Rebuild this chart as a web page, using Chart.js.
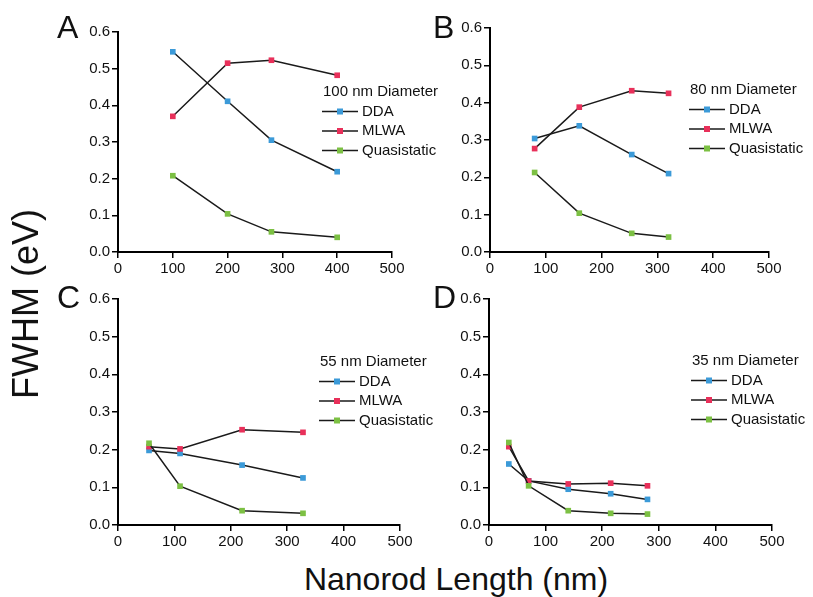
<!DOCTYPE html>
<html>
<head>
<meta charset="utf-8">
<script src="https://cdn.jsdelivr.net/npm/chart.js@4.4.1/dist/chart.umd.min.js"></script>
<style>
  body { margin: 0; background: #fff; width: 813px; height: 597px; position: relative; overflow: hidden;
         font-family: "Liberation Sans", Arial, Helvetica, sans-serif; color: #111; }
  canvas { position: absolute; }
  .letter { position: absolute; font-size: 32px; line-height: 32px; }
  .title { position: absolute; white-space: nowrap; line-height: 1; transform: translate(-50%, -50%); }
</style>
</head>
<body>
<canvas id="chartA"></canvas>
<canvas id="chartC"></canvas>
<canvas id="chartB"></canvas>
<canvas id="chartD"></canvas>
<div class="letter" style="left:57px;top:11px">A</div>
<div class="letter" style="left:433px;top:11px">B</div>
<div class="letter" style="left:57px;top:281px">C</div>
<div class="letter" style="left:433px;top:281px">D</div>
<div class="title" style="left:26px;top:304px;font-size:36px;transform:translate(-50%,-50%) rotate(-90deg)">FWHM (eV)</div>
<div class="title" style="left:456px;top:579px;font-size:32px">Nanorod Length (nm)</div>
<script>
// Series names and marker colours
const seriesNames = ['DDA', 'MLWA', 'Quasistatic'];
const seriesColors = ['#3b9ad8', '#e8305a', '#7cc043'];

// Axis ticks
const xTicks = [0, 100, 200, 300, 400, 500];
const yTicks = [0.0, 0.1, 0.2, 0.3, 0.4, 0.5, 0.6];

// Panel A - 100 nm diameter
const lengthsA = [100, 200, 280, 400];
const ddaA = [0.546, 0.411, 0.305, 0.219];
const mlwaA = [0.370, 0.515, 0.523, 0.482];
const quasiA = [0.208, 0.104, 0.055, 0.040];

// Panel B - 80 nm diameter
const lengthsB = [80, 160, 254, 320];
const ddaB = [0.304, 0.338, 0.261, 0.210];
const mlwaB = [0.277, 0.388, 0.432, 0.425];
const quasiB = [0.213, 0.104, 0.050, 0.040];

// Panel C - 55 nm diameter
const lengthsC = [55, 110, 220, 328];
const ddaC = [0.198, 0.190, 0.159, 0.125];
const mlwaC = [0.208, 0.202, 0.253, 0.246];
const quasiC = [0.217, 0.103, 0.038, 0.031];

// Panel D - 35 nm diameter
const lengthsD = [35, 70, 140, 215, 280];
const ddaD = [0.162, 0.117, 0.095, 0.083, 0.068];
const mlwaD = [0.208, 0.117, 0.109, 0.111, 0.104];
const quasiD = [0.219, 0.104, 0.038, 0.031, 0.029];

Chart.defaults.font.family = '"Liberation Sans", Arial, Helvetica, sans-serif';
Chart.defaults.color = '#111';

// Draws the in-plot legend ("xx nm Diameter" + one row per series)
const insetLegend = {
    id: 'insetLegend',
    afterDraw(chart, args, opts) {
        const ctx = chart.ctx;
        ctx.save();
        ctx.font = '15px "Liberation Sans", Arial, sans-serif';
        ctx.fillStyle = '#111';
        ctx.textBaseline = 'middle';
        ctx.fillText(opts.title, opts.x, opts.y);
        chart.data.datasets.forEach((ds, i) => {
            const y = opts.y + 19.5 * (i + 1);
            ctx.strokeStyle = '#1a1a1a';
            ctx.lineWidth = 1.5;
            ctx.beginPath();
            ctx.moveTo(opts.x - 1, y);
            ctx.lineTo(opts.x + 35, y);
            ctx.stroke();
            ctx.fillStyle = ds.pointBackgroundColor;
            ctx.fillRect(opts.x + 14, y - 3, 6, 6);
            ctx.fillStyle = '#111';
            ctx.fillText(ds.label, opts.x + 39, y);
        });
        ctx.restore();
    }
};

function makePanel(id, box, area, legend, lengths, seriesValues) {
    const canvas = document.getElementById(id);
    canvas.width = box.width;
    canvas.height = box.height;
    canvas.style.left = box.left + 'px';
    canvas.style.top = box.top + 'px';
    canvas.style.width = box.width + 'px';
    canvas.style.height = box.height + 'px';

    const yAxisWidth = area.left - box.left;
    const xAxisHeight = box.top + box.height - area.bottom;

    const datasets = seriesValues.map((vals, i) => ({
        label: seriesNames[i],
        data: lengths.map((x, j) => ({ x: x, y: vals[j] })),
        borderColor: '#1a1a1a',
        borderWidth: 1.5,
        pointStyle: 'rect',
        pointRadius: 4,
        pointBorderWidth: 0,
        pointBackgroundColor: seriesColors[i],
        order: seriesValues.length - i,
        tension: 0
    }));

    const axisGrid = { drawOnChartArea: false, drawTicks: true, tickLength: 6, color: '#000', lineWidth: 1.5 };
    const axisBorder = { display: true, color: '#000', width: 2 };

    return new Chart(canvas.getContext('2d'), {
        type: 'line',
        data: { datasets: datasets },
        options: {
            responsive: false,
            animation: false,
            devicePixelRatio: 1,
            layout: {
                padding: {
                    left: 0,
                    bottom: 0,
                    top: area.top - box.top,
                    right: box.left + box.width - area.right
                }
            },
            plugins: {
                legend: { display: false },
                tooltip: { enabled: false },
                insetLegend: {
                    title: legend.title,
                    x: legend.x - box.left,
                    y: legend.y - box.top
                }
            },
            scales: {
                x: {
                    type: 'linear',
                    min: xTicks[0],
                    max: xTicks[xTicks.length - 1],
                    afterBuildTicks: s => { s.ticks = xTicks.map(v => ({ value: v })); },
                    afterFit: s => { s.height = xAxisHeight; },
                    grid: axisGrid,
                    border: axisBorder,
                    ticks: { font: { size: 15 }, color: '#111', padding: 2, maxRotation: 0 }
                },
                y: {
                    min: yTicks[0],
                    max: yTicks[yTicks.length - 1],
                    afterBuildTicks: s => { s.ticks = yTicks.map(v => ({ value: v })); },
                    afterFit: s => { s.width = yAxisWidth; },
                    grid: axisGrid,
                    border: axisBorder,
                    ticks: { font: { size: 15 }, color: '#111', padding: 2, callback: v => Number(v).toFixed(1) }
                }
            }
        },
        plugins: [insetLegend]
    });
}

makePanel('chartA',
    { left: 40, top: 0, width: 440, height: 290 },
    { left: 118, top: 32, right: 392, bottom: 252 },
    { title: '100 nm Diameter', x: 323, y: 92 },
    lengthsA, [ddaA, mlwaA, quasiA]);

makePanel('chartB',
    { left: 420, top: 0, width: 393, height: 290 },
    { left: 490, top: 28, right: 769, bottom: 252 },
    { title: '80 nm Diameter', x: 690, y: 90 },
    lengthsB, [ddaB, mlwaB, quasiB]);

makePanel('chartC',
    { left: 40, top: 285, width: 440, height: 265 },
    { left: 118, top: 299, right: 400, bottom: 525 },
    { title: '55 nm Diameter', x: 320, y: 362 },
    lengthsC, [ddaC, mlwaC, quasiC]);

makePanel('chartD',
    { left: 420, top: 285, width: 393, height: 265 },
    { left: 489, top: 299, right: 772, bottom: 525 },
    { title: '35 nm Diameter', x: 692, y: 361 },
    lengthsD, [ddaD, mlwaD, quasiD]);
</script>
</body>
</html>
